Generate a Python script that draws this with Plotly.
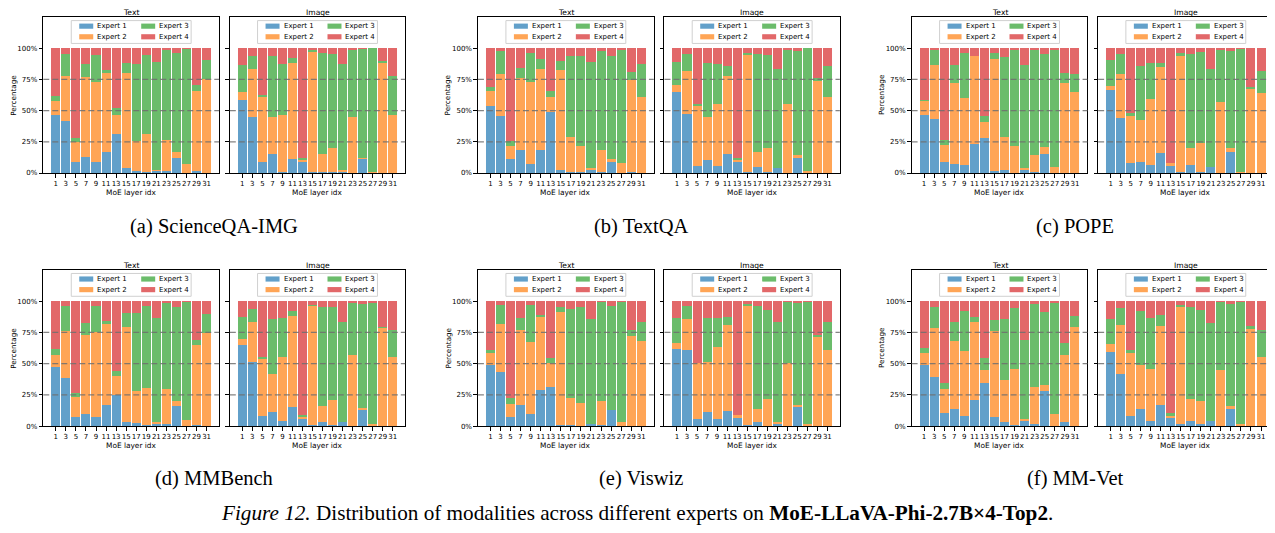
import plotly.graph_objects as go

W, H = 1275, 533
OFF = 8  # default page margin around the plot div
FW, FH = W - OFF, H - OFF

# ---------------- data ----------------
LAYERS = [1, 3, 5, 7, 9, 11, 13, 15, 17, 19, 21, 23, 25, 27, 29, 31]
LAYER_LABELS = [str(v) for v in LAYERS]
EXPERTS = ["Expert 1", "Expert 2", "Expert 3", "Expert 4"]
COLORS = ["#62a0ca", "#ffa556", "#6bbc6b", "#e26869"]
YTICKS = [0, 25, 50, 75, 100]
YTICK_LABELS = ["0%", "25%", "50%", "75%", "100%"]
GRID_LEVELS = [25, 50, 75]
MODALITIES = ["Text", "Image"]
DATASETS = ["(a) ScienceQA-IMG", "(b) TextQA", "(c) POPE",
            "(d) MMBench", "(e) Viswiz", "(f) MM-Vet"]

# (a) ScienceQA-IMG
SQA_TEXT_E1 = [46.5, 41.8, 9.0, 13.0, 9.0, 17.0, 30.9, 4.3, 1.9, 0.5, 1.9, 1.9, 12.2, 0.0, 1.9, 0.0]
SQA_TEXT_E2 = [11.2, 35.9, 15.7, 63.9, 63.9, 63.0, 15.6, 75.7, 24.1, 30.4, 0.8, 24.7, 4.8, 6.9, 64.1, 75.0]
SQA_TEXT_E3 = [3.7, 17.5, 3.5, 10.3, 21.8, 2.4, 5.6, 8.0, 61.2, 63.8, 86.4, 71.8, 79.3, 92.6, 4.5, 15.4]
SQA_TEXT_E4 = [38.6, 4.8, 71.8, 12.8, 5.3, 17.6, 47.9, 12.0, 12.8, 5.3, 10.9, 1.6, 3.7, 0.5, 29.5, 9.6]
SQA_IMG_E1 = [58.5, 44.9, 9.0, 14.9, 1.0, 11.4, 8.5, 0.5, 0.5, 0.5, 1.0, 0.0, 11.7, 0.0, 0.0, 0.0]
SQA_IMG_E2 = [6.4, 38.6, 52.7, 30.3, 45.5, 76.9, 2.1, 96.8, 14.9, 19.2, 1.1, 45.2, 0.5, 1.0, 88.3, 46.8]
SQA_IMG_E3 = [21.8, 10.1, 1.1, 48.4, 40.7, 3.7, 1.6, 1.6, 80.9, 75.5, 85.1, 53.2, 87.3, 99.0, 1.1, 31.0]
SQA_IMG_E4 = [13.3, 6.4, 37.2, 6.4, 12.8, 8.0, 87.8, 1.1, 3.7, 4.8, 12.8, 1.6, 0.5, 0.0, 10.6, 22.2]

# (b) TextQA
TQA_TEXT_E1 = [53.8, 45.9, 10.9, 18.8, 6.9, 18.8, 49.1, 2.7, 1.0, 1.0, 2.7, 0.8, 8.5, 0.0, 0.5, 0.0]
TQA_TEXT_E2 = [12.2, 33.7, 11.1, 57.3, 66.3, 64.5, 11.9, 79.8, 28.2, 20.5, 1.0, 18.0, 2.4, 7.7, 74.3, 61.0]
TQA_TEXT_E3 = [3.0, 18.0, 4.0, 7.7, 23.1, 7.9, 5.0, 7.2, 64.4, 72.1, 85.2, 79.3, 82.7, 91.5, 5.8, 26.3]
TQA_TEXT_E4 = [31.0, 2.4, 74.0, 16.2, 3.7, 8.8, 34.0, 10.3, 6.4, 6.4, 11.1, 1.9, 6.4, 0.8, 19.4, 12.7]
TQA_IMG_E1 = [64.5, 47.5, 5.6, 10.1, 5.6, 15.6, 8.5, 1.0, 4.5, 1.0, 3.7, 0.0, 11.7, 0.0, 0.0, 0.0]
TQA_IMG_E2 = [6.1, 34.2, 48.2, 35.0, 49.8, 62.1, 1.6, 94.2, 12.7, 19.4, 0.0, 55.4, 2.4, 1.9, 74.0, 61.0]
TQA_IMG_E3 = [18.3, 13.5, 1.6, 43.0, 31.9, 8.0, 1.6, 0.8, 78.0, 74.0, 79.6, 43.8, 84.0, 98.1, 2.0, 25.0]
TQA_IMG_E4 = [11.1, 4.8, 44.6, 11.9, 12.7, 14.3, 88.3, 4.0, 4.8, 5.6, 16.7, 0.8, 1.9, 0.0, 24.0, 14.0]

# (c) POPE
POPE_TEXT_E1 = [46.7, 43.5, 8.5, 6.9, 6.1, 23.3, 27.9, 1.3, 2.1, 0.0, 2.9, 1.0, 15.6, 0.0, 0.0, 0.0]
POPE_TEXT_E2 = [11.1, 43.2, 14.3, 65.5, 54.1, 70.3, 12.7, 89.9, 26.5, 22.0, 0.8, 13.1, 5.6, 4.5, 72.4, 65.0]
POPE_TEXT_E3 = [0.5, 11.7, 4.0, 14.3, 35.8, 0.0, 5.3, 4.8, 64.2, 77.2, 82.8, 84.9, 74.0, 94.7, 8.0, 14.3]
POPE_TEXT_E4 = [41.7, 1.6, 73.2, 13.3, 4.0, 6.4, 54.1, 4.0, 7.2, 0.8, 13.5, 1.0, 4.8, 0.8, 19.6, 20.7]
POPE_IMG_E1 = [66.6, 44.3, 7.7, 8.5, 6.1, 16.4, 5.3, 1.0, 6.1, 1.0, 4.5, 0.0, 17.0, 0.0, 0.0, 0.0]
POPE_IMG_E2 = [3.2, 35.3, 38.2, 34.2, 53.3, 68.5, 2.4, 93.4, 14.3, 23.4, 0.0, 57.0, 3.0, 1.0, 68.0, 64.0]
POPE_IMG_E3 = [20.7, 15.6, 2.4, 43.0, 28.7, 3.2, 0.0, 1.6, 74.8, 72.4, 78.8, 42.2, 78.0, 98.5, 1.0, 18.0]
POPE_IMG_E4 = [9.5, 4.8, 51.7, 14.3, 11.9, 11.9, 92.3, 4.0, 4.8, 3.2, 16.7, 0.8, 2.0, 0.5, 31.0, 18.0]

# (d) MMBench
MMB_TEXT_E1 = [47.1, 38.4, 7.4, 9.8, 7.4, 16.9, 24.9, 3.4, 2.6, 1.0, 2.6, 1.9, 16.1, 0.0, 1.0, 0.0]
MMB_TEXT_E2 = [9.5, 37.3, 15.9, 62.7, 67.5, 65.1, 15.0, 76.2, 25.4, 29.4, 0.8, 27.7, 4.0, 5.0, 63.6, 74.1]
MMB_TEXT_E3 = [4.8, 20.6, 3.2, 10.3, 21.4, 2.4, 4.0, 11.1, 62.7, 65.9, 83.4, 69.1, 75.4, 94.5, 3.9, 15.8]
MMB_TEXT_E4 = [38.6, 3.7, 73.5, 17.2, 3.7, 15.6, 56.1, 9.3, 9.3, 3.7, 13.2, 1.3, 4.5, 0.5, 31.5, 10.1]
MMB_IMG_E1 = [64.6, 51.1, 8.2, 11.4, 4.2, 15.3, 5.8, 1.0, 3.4, 1.0, 3.4, 0.0, 13.7, 0.0, 0.0, 0.0]
MMB_IMG_E2 = [4.7, 32.5, 45.2, 30.1, 50.8, 73.1, 2.4, 95.3, 12.7, 19.8, 0.0, 56.5, 0.8, 1.8, 78.8, 55.0]
MMB_IMG_E3 = [18.3, 10.3, 1.6, 44.5, 31.8, 3.9, 0.8, 0.7, 79.4, 74.7, 80.2, 42.7, 83.9, 97.4, 0.8, 22.0]
MMB_IMG_E4 = [12.4, 6.1, 45.0, 14.0, 13.2, 7.7, 91.0, 3.0, 4.5, 4.5, 16.4, 0.8, 1.6, 0.8, 20.4, 23.0]

# (e) Viswiz
VIZ_TEXT_E1 = [48.7, 43.1, 7.4, 16.9, 9.8, 28.8, 31.2, 1.0, 1.0, 0.0, 1.9, 1.0, 13.0, 0.0, 0.0, 0.0]
VIZ_TEXT_E2 = [9.5, 38.9, 10.3, 60.3, 57.1, 58.8, 19.1, 90.5, 21.5, 18.5, 0.0, 19.1, 0.0, 3.4, 71.7, 67.7]
VIZ_TEXT_E3 = [2.4, 15.1, 4.8, 9.6, 30.2, 1.6, 3.9, 4.0, 71.4, 77.0, 84.1, 79.4, 83.3, 96.1, 5.5, 15.9]
VIZ_TEXT_E4 = [39.4, 2.9, 77.5, 13.2, 2.9, 10.8, 45.8, 4.5, 6.1, 4.5, 14.0, 0.5, 3.7, 0.5, 22.8, 16.4]
VIZ_IMG_E1 = [61.4, 60.6, 5.8, 11.4, 5.8, 12.2, 6.6, 1.0, 3.4, 0.0, 2.6, 0.0, 16.1, 0.0, 0.0, 0.0]
VIZ_IMG_E2 = [4.7, 25.4, 44.5, 39.7, 57.2, 69.0, 2.4, 95.3, 10.4, 21.7, 0.8, 50.3, 0.8, 1.9, 72.0, 61.0]
VIZ_IMG_E3 = [20.7, 10.3, 0.0, 35.7, 23.8, 6.4, 0.0, 1.6, 82.5, 71.4, 80.2, 49.2, 81.8, 97.6, 1.0, 22.0]
VIZ_IMG_E4 = [13.2, 3.7, 49.7, 13.2, 13.2, 12.4, 91.0, 2.1, 3.7, 6.9, 16.4, 0.5, 1.3, 0.5, 27.0, 17.0]

# (f) MM-Vet
MMV_TEXT_E1 = [48.7, 39.2, 10.6, 13.8, 8.2, 20.9, 34.4, 7.4, 3.4, 1.0, 5.0, 1.9, 28.0, 0.0, 3.4, 0.0]
MMV_TEXT_E2 = [9.5, 39.6, 19.0, 53.9, 51.6, 62.7, 10.3, 68.3, 33.4, 44.5, 0.8, 29.3, 4.8, 9.8, 53.2, 79.6]
MMV_TEXT_E3 = [4.0, 16.7, 4.8, 15.9, 32.5, 4.0, 9.5, 9.5, 49.2, 49.2, 62.7, 66.7, 58.7, 88.9, 9.5, 8.8]
MMV_TEXT_E4 = [37.8, 4.5, 65.6, 16.4, 7.7, 12.4, 45.8, 14.8, 14.0, 5.3, 31.5, 2.1, 8.5, 1.3, 33.9, 11.6]
MMV_IMG_E1 = [59.0, 41.5, 8.2, 13.8, 4.2, 16.9, 6.6, 1.9, 4.2, 1.9, 4.2, 0.0, 13.8, 0.0, 0.0, 0.0]
MMV_IMG_E2 = [6.3, 39.7, 50.0, 34.9, 41.3, 63.5, 1.6, 93.6, 17.5, 18.2, 0.0, 44.7, 2.3, 2.0, 78.6, 55.6]
MMV_IMG_E3 = [20.7, 13.5, 2.4, 43.6, 41.3, 8.8, 2.4, 1.6, 73.8, 73.0, 78.6, 54.8, 81.8, 97.5, 1.4, 21.4]
MMV_IMG_E4 = [14.0, 5.3, 39.4, 7.7, 13.2, 10.8, 89.4, 2.9, 4.5, 6.9, 17.2, 0.5, 2.1, 0.5, 20.0, 23.0]

PANELS = [
    [[SQA_TEXT_E1, SQA_TEXT_E2, SQA_TEXT_E3, SQA_TEXT_E4], [SQA_IMG_E1, SQA_IMG_E2, SQA_IMG_E3, SQA_IMG_E4]],
    [[TQA_TEXT_E1, TQA_TEXT_E2, TQA_TEXT_E3, TQA_TEXT_E4], [TQA_IMG_E1, TQA_IMG_E2, TQA_IMG_E3, TQA_IMG_E4]],
    [[POPE_TEXT_E1, POPE_TEXT_E2, POPE_TEXT_E3, POPE_TEXT_E4], [POPE_IMG_E1, POPE_IMG_E2, POPE_IMG_E3, POPE_IMG_E4]],
    [[MMB_TEXT_E1, MMB_TEXT_E2, MMB_TEXT_E3, MMB_TEXT_E4], [MMB_IMG_E1, MMB_IMG_E2, MMB_IMG_E3, MMB_IMG_E4]],
    [[VIZ_TEXT_E1, VIZ_TEXT_E2, VIZ_TEXT_E3, VIZ_TEXT_E4], [VIZ_IMG_E1, VIZ_IMG_E2, VIZ_IMG_E3, VIZ_IMG_E4]],
    [[MMV_TEXT_E1, MMV_TEXT_E2, MMV_TEXT_E3, MMV_TEXT_E4], [MMV_IMG_E1, MMV_IMG_E2, MMV_IMG_E3, MMV_IMG_E4]],
]

FIG_CAPTION = ("<i>Figure 12.</i> Distribution of modalities across different experts on "
               "<b>MoE-LLaVA-Phi-2.7B×4-Top2</b>.")

# ---------------- layout geometry (page pixels) ----------------
SANS = "DejaVu Sans"
SERIF = "Liberation Serif"
PANEL_X = [0.0, 435.0, 869.0]
ROW_TOP = [17.0, 271.8]
ROW_BOT = [174.3, 429.3]
AX_X = {"Text": (43.3, 219.3), "Image": (230.0, 405.5)}
PANEL_CENTER = [214.0, 642.0, 1076.0]
CAPTION_Y = [228.0, 482.0]


def PX(x):
    return (x - OFF) / FW


def PY(y):
    return 1 - (y - OFF) / FH


fig = go.Figure()
layout = dict(
    width=FW, height=FH,
    margin=dict(l=0, r=0, t=0, b=0),
    paper_bgcolor="white", plot_bgcolor="white",
    barmode="stack", showlegend=False,
    font=dict(family=SANS, color="black", size=7),
)
shapes = []
annotations = []

n = 0
for p, ds in enumerate(DATASETS):
    r, c = divmod(p, 3)
    top, bot = ROW_TOP[r], ROW_BOT[r]
    for m, mod in enumerate(MODALITIES):
        n += 1
        xs = "" if n == 1 else str(n)
        x0 = AX_X[mod][0] + PANEL_X[c]
        x1 = AX_X[mod][1] + PANEL_X[c]
        cx = (x0 + x1) / 2

        for k, name in enumerate(EXPERTS):
            fig.add_trace(go.Bar(
                x=LAYERS, y=PANELS[p][m][k], width=1.8,
                marker=dict(color=COLORS[k], line=dict(width=0)),
                name=name, xaxis="x" + xs, yaxis="y" + xs,
                showlegend=False,
            ))

        layout["xaxis" + xs] = dict(
            domain=[PX(x0), PX(x1)], anchor="y" + xs,
            range=[-1.49, 33.49], tickmode="array",
            tickvals=LAYERS, ticktext=LAYER_LABELS, tickangle=0,
            ticks="outside", ticklen=3.5, tickwidth=0.8, tickcolor="black",
            tickfont=dict(family=SANS, size=7, color="black"),
            showline=True, mirror=True, linecolor="black", linewidth=1,
            showgrid=False, zeroline=False, fixedrange=True,
        )
        layout["yaxis" + xs] = dict(
            domain=[PY(bot), PY(top)], anchor="x" + xs,
            range=[0, 125], tickmode="array",
            tickvals=YTICKS, ticktext=YTICK_LABELS,
            showticklabels=(mod == "Text"),
            ticks="outside", ticklen=3.5, tickwidth=0.8, tickcolor="black",
            tickfont=dict(family=SANS, size=7, color="black"),
            showline=True, mirror=True, linecolor="black", linewidth=1,
            showgrid=False, zeroline=False, fixedrange=True,
        )

        # dashed reference lines drawn over the bars
        for g in GRID_LEVELS:
            shapes.append(dict(
                type="line", xref="x" + xs + " domain", yref="y" + xs,
                x0=0, x1=1, y0=g, y1=g, layer="above",
                line=dict(color="rgba(110,110,110,0.85)", width=1.2, dash="6px,3px"),
            ))

        # subplot title
        annotations.append(dict(
            x=PX(cx), y=PY(top - 4.8), xref="paper", yref="paper",
            text=mod, showarrow=False, xanchor="center", yanchor="middle",
            font=dict(family=SANS, size=7.6, color="black"),
        ))
        # x label
        annotations.append(dict(
            x=PX(cx), y=PY(bot + 19.2), xref="paper", yref="paper",
            text="MoE layer idx", showarrow=False, xanchor="center", yanchor="middle",
            font=dict(family=SANS, size=7.4, color="black"),
        ))
        if mod == "Text":
            annotations.append(dict(
                x=PX(x0 - 29.5), y=PY((top + bot) / 2), xref="paper", yref="paper",
                text="Percentage", showarrow=False, textangle=-90,
                xanchor="center", yanchor="middle",
                font=dict(family=SANS, size=7.2, color="black"),
            ))

        # legend box (2 columns)
        shapes.append(dict(
            type="rect", xref="paper", yref="paper", layer="above",
            x0=PX(cx - 60), x1=PX(cx + 60), y0=PY(top + 3.7), y1=PY(top + 26.7),
            line=dict(color="#d0d0d0", width=1), fillcolor="rgba(255,255,255,0.85)",
        ))
        for k, name in enumerate(EXPERTS):
            col, row = divmod(k, 2)
            ry = top + (9.3 if row == 0 else 20.0)
            px0 = cx + (-52 if col == 0 else 10)
            shapes.append(dict(
                type="rect", xref="paper", yref="paper", layer="above",
                x0=PX(px0), x1=PX(px0 + 14), y0=PY(ry + 2.6), y1=PY(ry - 2.6),
                line=dict(width=0), fillcolor=COLORS[k],
            ))
            annotations.append(dict(
                x=PX(px0 + 16), y=PY(ry), xref="paper", yref="paper",
                text=name, showarrow=False, xanchor="left", yanchor="middle",
                font=dict(family=SANS, size=7, color="black"),
            ))

    # sub-figure caption
    annotations.append(dict(
        x=PX(PANEL_CENTER[c]), y=PY(CAPTION_Y[r]), xref="paper", yref="paper",
        text=ds, showarrow=False, xanchor="center", yanchor="middle",
        font=dict(family=SERIF, size=20.5, color="black"),
    ))

annotations.append(dict(
    x=PX(637), y=PY(517), xref="paper", yref="paper",
    text=FIG_CAPTION, showarrow=False, xanchor="center", yanchor="middle",
    font=dict(family=SERIF, size=21.2, color="black"),
))

layout["shapes"] = shapes
layout["annotations"] = annotations
fig.update_layout(**layout)
fig.write_html("out.html")
